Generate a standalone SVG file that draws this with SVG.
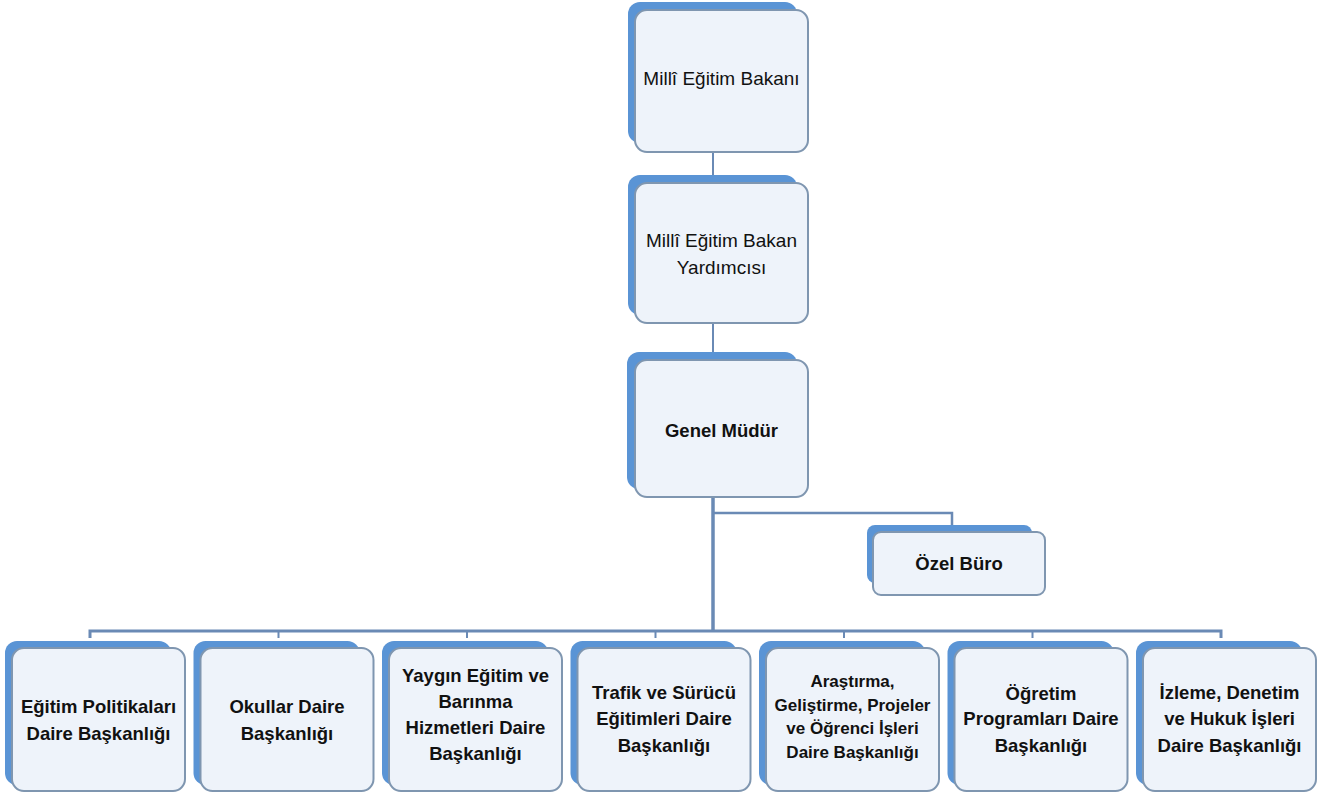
<svg xmlns="http://www.w3.org/2000/svg" width="1327" height="794" viewBox="0 0 1327 794">
<style>
.back{fill:#5a94d5}
.front{fill:#eef3fa;stroke:#7f96b0;stroke-width:2}
.t{font-family:"Liberation Sans",Arial,sans-serif;fill:#111;text-anchor:middle}
.r{font-size:19px}
.b{font-size:18.5px;font-weight:bold}
.s{font-size:17px;font-weight:bold}
.c{fill:none;stroke:#6a8ab5;stroke-linejoin:miter}
</style>
<rect width="1327" height="794" fill="#ffffff"/>
<g id="connectors">
<path class="c" stroke-width="2" d="M713,152 V176"/>
<path class="c" stroke-width="2" d="M713,323 V353"/>
<path class="c" stroke-width="3.5" d="M713,497 V631"/>
<path class="c" stroke-width="2.5" d="M713,513 H952 V526"/>
<path class="c" stroke-width="3" d="M90,638 V631 H1221 V638"/>
<path class="c" stroke-width="2" d="M278.5,631 V638 M467,631 V638 M655.5,631 V638 M844,631 V638 M1032.5,631 V638"/>
</g>
<g id="n1">
<rect class="back" x="628" y="2" width="169" height="141" rx="12"/>
<rect class="front" x="635" y="10" width="173" height="142" rx="12"/>
<text class="t r" x="721.5" y="85">Millî Eğitim Bakanı</text>
</g>
<g id="n2">
<rect class="back" x="628" y="175" width="169" height="140" rx="12"/>
<rect class="front" x="635" y="183" width="173" height="140" rx="12"/>
<text class="t r" x="721.5" y="247">Millî Eğitim Bakan</text>
<text class="t r" x="721.5" y="274">Yardımcısı</text>
</g>
<g id="n3">
<rect class="back" x="627" y="352" width="170" height="137" rx="12"/>
<rect class="front" x="635" y="360" width="173" height="137" rx="12"/>
<text class="t b" x="721.5" y="437">Genel Müdür</text>
</g>
<g id="ozel">
<rect class="back" x="867" y="525" width="165" height="58" rx="8"/>
<rect class="front" x="873" y="532" width="172" height="63" rx="8"/>
<text class="t b" x="959" y="570">Özel Büro</text>
</g>
<g id="b1">
<rect class="back" x="5" y="641" width="166" height="144" rx="12"/>
<rect class="front" x="12" y="648" width="173" height="143" rx="12"/>
<text class="t b" x="98.5" y="713">Eğitim Politikaları</text>
<text class="t b" x="98.5" y="740">Daire Başkanlığı</text>
</g>
<g id="b2">
<rect class="back" x="193.5" y="641" width="166" height="144" rx="12"/>
<rect class="front" x="200.5" y="648" width="173" height="143" rx="12"/>
<text class="t b" x="287" y="713">Okullar Daire</text>
<text class="t b" x="287" y="740">Başkanlığı</text>
</g>
<g id="b3">
<rect class="back" x="382" y="641" width="166" height="144" rx="12"/>
<rect class="front" x="389" y="648" width="173" height="143" rx="12"/>
<text class="t b" x="475.5" y="682">Yaygın Eğitim ve</text>
<text class="t b" x="475.5" y="708">Barınma</text>
<text class="t b" x="475.5" y="734">Hizmetleri Daire</text>
<text class="t b" x="475.5" y="760">Başkanlığı</text>
</g>
<g id="b4">
<rect class="back" x="570.5" y="641" width="166" height="144" rx="12"/>
<rect class="front" x="577.5" y="648" width="173" height="143" rx="12"/>
<text class="t b" x="664" y="699">Trafik ve Sürücü</text>
<text class="t b" x="664" y="725">Eğitimleri Daire</text>
<text class="t b" x="664" y="752">Başkanlığı</text>
</g>
<g id="b5">
<rect class="back" x="759" y="641" width="166" height="144" rx="12"/>
<rect class="front" x="766" y="648" width="173" height="143" rx="12"/>
<text class="t s" x="852.5" y="687">Araştırma,</text>
<text class="t s" x="852.5" y="711">Geliştirme, Projeler</text>
<text class="t s" x="852.5" y="734">ve Öğrenci İşleri</text>
<text class="t s" x="852.5" y="758">Daire Başkanlığı</text>
</g>
<g id="b6">
<rect class="back" x="947.5" y="641" width="166" height="144" rx="12"/>
<rect class="front" x="954.5" y="648" width="173" height="143" rx="12"/>
<text class="t b" x="1041" y="700">Öğretim</text>
<text class="t b" x="1041" y="725">Programları Daire</text>
<text class="t b" x="1041" y="752">Başkanlığı</text>
</g>
<g id="b7">
<rect class="back" x="1136" y="641" width="166" height="144" rx="12"/>
<rect class="front" x="1143" y="648" width="173" height="143" rx="12"/>
<text class="t b" x="1229.5" y="699">İzleme, Denetim</text>
<text class="t b" x="1229.5" y="725">ve Hukuk İşleri</text>
<text class="t b" x="1229.5" y="752">Daire Başkanlığı</text>
</g>
</svg>
